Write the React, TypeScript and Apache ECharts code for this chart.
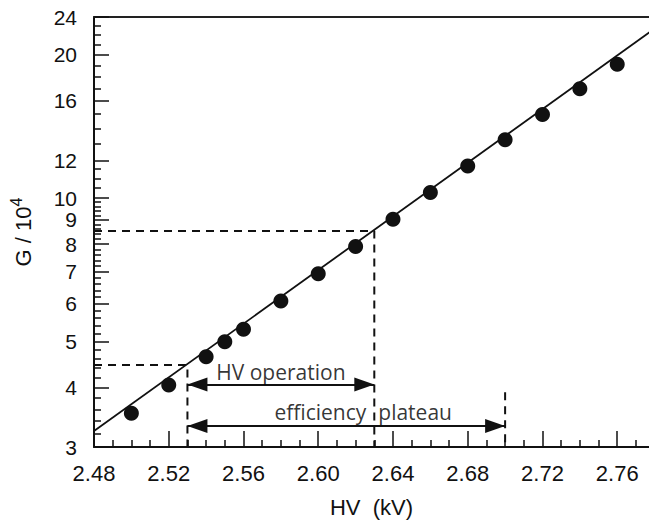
import React, { useEffect, useRef } from 'react';
import * as echarts from 'echarts';

// measured points
const hvValues = [2.50, 2.52, 2.54, 2.55, 2.56, 2.58, 2.60, 2.62, 2.64, 2.66, 2.68, 2.70, 2.72, 2.74, 2.76];
const gainValues = [3.53, 4.05, 4.64, 4.99, 5.30, 6.08, 6.93, 7.91, 9.03, 10.27, 11.68, 13.26, 14.98, 16.97, 19.1];

// exponential fit line
const fitHV = [2.48, 2.78];
const fitGain = [3.24, 22.7];

// ranges
const operationHV = [2.53, 2.63];
const plateauHV = [2.53, 2.70];
const operationGain = [4.46, 8.53];
const plateauMarkGain = 3.91;
const operationArrowGain = 4.06;
const plateauArrowGain = 3.32;

// annotations
const annotationTexts = ['HV operation', 'efficiency', 'plateau'];
const annotationHV = [2.58, 2.63, 2.63];
const annotationGain = [4.31, 3.55, 3.55];

// axes
const xMin = 2.48;
const xMax = 2.777;
const yMin = 3;
const yMax = 24;
const xMajorTicks = [2.48, 2.52, 2.56, 2.60, 2.64, 2.68, 2.72, 2.76];
const xMinorTicks = [2.49, 2.50, 2.51, 2.53, 2.54, 2.55, 2.57, 2.58, 2.59, 2.61, 2.62, 2.63, 2.65, 2.66, 2.67, 2.69, 2.70, 2.71, 2.73, 2.74, 2.75, 2.77];
const yMajorTicks = [3, 4, 5, 6, 7, 8, 9, 10, 12, 16, 20, 24];
const yMinorTicks = [
  3.2, 3.4, 3.6, 3.8, 4.2, 4.4, 4.6, 4.8, 5.2, 5.4, 5.6, 5.8, 6.2, 6.4, 6.6, 6.8,
  7.2, 7.4, 7.6, 7.8, 8.2, 8.4, 8.6, 8.8, 9.2, 9.4, 9.6, 9.8, 10.5, 11, 11.5,
  13, 14, 15, 17, 18, 19, 21, 22, 23,
];

const BLACK = '#111';
const LABEL_FONT = '"Liberation Sans", Arial, Helvetica, sans-serif';
const NOTE_FONT = '"Open Sans", "Noto Sans", sans-serif';

export default function App() {
  const ref = useRef<HTMLDivElement>(null);
  useEffect(() => {
    if (!ref.current) return;
    const chart = echarts.init(ref.current, null, { renderer: 'svg' });
    const lg = (v: number) => Math.log10(v);
    const dashStyle = { color: BLACK, width: 2, type: [8, 6] as any };

    const option: any = {
      animation: false,
      backgroundColor: '#fff',
      grid: { left: 93, right: 0, top: 17, bottom: 70, containLabel: false },
      xAxis: [
        {
          type: 'value', position: 'bottom', min: xMin, max: xMax,
          name: 'HV  (kV)', nameLocation: 'middle', nameGap: 49,
          nameTextStyle: { fontFamily: LABEL_FONT, fontSize: 22, color: BLACK },
          axisLine: { show: true, onZero: false, lineStyle: { color: BLACK, width: 2 } },
          axisTick: { show: true, inside: true, length: 16, customValues: xMajorTicks, lineStyle: { color: BLACK, width: 1.5 } },
          axisLabel: {
            show: true, customValues: xMajorTicks, margin: 15,
            fontFamily: LABEL_FONT, fontSize: 22, color: BLACK,
            formatter: (v: number) => v.toFixed(2),
          },
          splitLine: { show: false },
        },
        {
          type: 'value', position: 'bottom', min: xMin, max: xMax,
          axisLine: { show: false, onZero: false },
          axisTick: { show: true, inside: true, length: 7, customValues: xMinorTicks, lineStyle: { color: BLACK, width: 1.5 } },
          axisLabel: { show: false },
          splitLine: { show: false },
        },
        {
          type: 'value', position: 'top', min: xMin, max: xMax,
          axisLine: { show: true, onZero: false, lineStyle: { color: '#222', width: 2 } },
          axisTick: { show: false },
          axisLabel: { show: false },
          splitLine: { show: false },
        },
      ],
      yAxis: [
        {
          type: 'log', logBase: 10, position: 'left', min: yMin, max: yMax,
          name: 'G / 10{sup|4}', nameLocation: 'middle', nameGap: 56,
          nameTextStyle: {
            fontFamily: LABEL_FONT, fontSize: 22, color: BLACK,
            rich: {
              sup: { fontFamily: LABEL_FONT, fontSize: 16, color: BLACK, verticalAlign: 'top', lineHeight: 30 },
            },
          },
          axisLine: { show: true, onZero: false, lineStyle: { color: BLACK, width: 2 } },
          axisTick: { show: false },
          axisLabel: { show: false },
          splitLine: { show: false },
          minorTick: { show: false },
        },
        {
          type: 'value', position: 'left', min: lg(yMin), max: lg(yMax),
          axisLine: { show: false, onZero: false },
          axisTick: { show: true, inside: true, length: 15, customValues: yMajorTicks.map(lg), lineStyle: { color: BLACK, width: 1.5 } },
          axisLabel: {
            show: true, customValues: yMajorTicks.map(lg), margin: 17,
            fontFamily: LABEL_FONT, fontSize: 21, lineHeight: 17, color: BLACK,
            formatter: (v: number) => String(Math.round(Math.pow(10, v))),
          },
          splitLine: { show: false },
        },
        {
          type: 'value', position: 'left', min: lg(yMin), max: lg(yMax),
          axisLine: { show: false, onZero: false },
          axisTick: { show: true, inside: true, length: 7, customValues: yMinorTicks.map(lg), lineStyle: { color: BLACK, width: 1.5 } },
          axisLabel: { show: false },
          splitLine: { show: false },
        },
      ],
      series: [
        {
          type: 'line', name: 'fit', xAxisIndex: 0, yAxisIndex: 0,
          data: fitHV.map((x, i) => [x, fitGain[i]]),
          showSymbol: false, symbol: 'none',
          lineStyle: { color: BLACK, width: 1.8 },
          silent: true, z: 3,
        },
        {
          type: 'line', name: 'operation', xAxisIndex: 0, yAxisIndex: 0,
          data: [[xMin, operationGain[1]], [operationHV[1], operationGain[1]], [operationHV[1], yMin]],
          symbol: 'none', lineStyle: dashStyle, silent: true, z: 2,
        },
        {
          type: 'line', name: 'lower', xAxisIndex: 0, yAxisIndex: 0,
          data: [[xMin, operationGain[0]], [operationHV[0], operationGain[0]], [operationHV[0], yMin]],
          symbol: 'none', lineStyle: dashStyle, silent: true, z: 2,
        },
        {
          type: 'line', name: 'plateauEnd', xAxisIndex: 0, yAxisIndex: 0,
          data: [[plateauHV[1], plateauMarkGain], [plateauHV[1], yMin]],
          symbol: 'none', lineStyle: dashStyle, silent: true, z: 2,
        },
        {
          type: 'line', name: 'arrows', xAxisIndex: 0, yAxisIndex: 0,
          data: [],
          markLine: {
            silent: true,
            symbol: ['triangle', 'triangle'],
            symbolSize: [14, 20],
            symbolOffset: [[0, 10], [0, 10]],
            lineStyle: { color: BLACK, width: 2, type: 'solid' },
            itemStyle: { color: BLACK },
            label: { show: false },
            emphasis: { disabled: true },
            data: [
              [{ coord: [operationHV[0], operationArrowGain] }, { coord: [operationHV[1], operationArrowGain] }],
              [{ coord: [plateauHV[0], plateauArrowGain] }, { coord: [plateauHV[1], plateauArrowGain] }],
            ],
          },
        },
        {
          type: 'scatter', name: 'data', xAxisIndex: 0, yAxisIndex: 0,
          data: hvValues.map((x, i) => [x, gainValues[i]]),
          symbol: 'circle', symbolSize: 15,
          itemStyle: { color: BLACK, opacity: 1 },
          z: 5,
        },
        {
          type: 'scatter', name: 'notes', xAxisIndex: 0, yAxisIndex: 0,
          symbolSize: 0, silent: true, z: 6,
          data: annotationTexts.map((t, i) => ({
            value: [annotationHV[i], annotationGain[i]],
            label: {
              show: true,
              formatter: t,
              position: i === 0 ? 'inside' : i === 1 ? 'left' : 'right',
              distance: i === 1 ? 8 : 4,
              fontFamily: NOTE_FONT, fontSize: 21, color: '#000',
            },
          })),
        },
      ],
    };
    chart.setOption(option);
    return () => chart.dispose();
  }, []);
  return (
    <div
      ref={ref}
      style={{ position: 'fixed', left: 0, top: 0, width: 649, height: 523, background: '#fff' }}
    />
  );
}
